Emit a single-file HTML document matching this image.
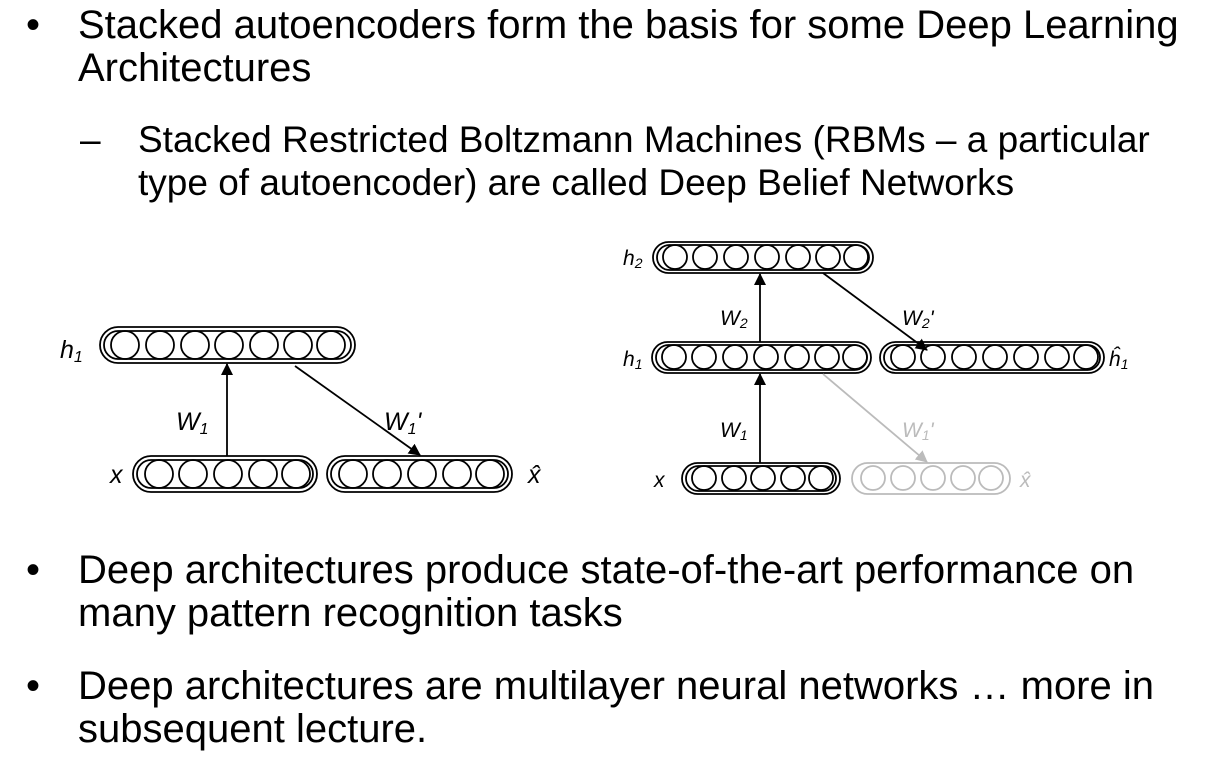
<!DOCTYPE html>
<html><head><meta charset="utf-8"><style>
body{margin:0;width:1228px;height:780px;background:#fff;position:relative;overflow:hidden;font-family:"Liberation Sans",sans-serif;color:#000}
.t{position:absolute;white-space:nowrap;line-height:1}
.b{font-size:40px}
.s{font-size:37px}
svg{position:absolute;left:0;top:0}
svg text{font-family:"Liberation Sans",sans-serif;font-style:italic}
</style></head><body>
<div class="t b" style="left:26px;top:5px">•</div>
<div class="t b" style="left:78px;top:5px">Stacked autoencoders form the basis for some Deep Learning</div>
<div class="t b" style="left:78px;top:48px">Architectures</div>
<div class="t s" style="left:80px;top:121px">–</div>
<div class="t s" style="left:138px;top:121px">Stacked Restricted Boltzmann Machines (RBMs – a particular</div>
<div class="t s" style="left:138px;top:164px">type of autoencoder) are called Deep Belief Networks</div>
<div class="t b" style="left:26px;top:550px">•</div>
<div class="t b" style="left:78px;top:550px">Deep architectures produce state-of-the-art performance on</div>
<div class="t b" style="left:78px;top:593px">many pattern recognition tasks</div>
<div class="t b" style="left:26px;top:666px">•</div>
<div class="t b" style="left:78px;top:666px">Deep architectures are multilayer neural networks … more in</div>
<div class="t b" style="left:78px;top:709px">subsequent lecture.</div>
<svg width="1228" height="780">
<defs>
<marker id="a" markerWidth="12" markerHeight="12" refX="11" refY="6" orient="auto" markerUnits="userSpaceOnUse"><path d="M0,0 L12,6 L0,12z" fill="#000"/></marker>
<marker id="g" markerWidth="12" markerHeight="12" refX="11" refY="6" orient="auto" markerUnits="userSpaceOnUse"><path d="M0,0 L12,6 L0,12z" fill="#bbb"/></marker>
</defs>
<g fill="none" stroke="#000" stroke-width="1.8">
<rect x="100" y="327" width="255" height="36" rx="18"/><rect x="104" y="331" width="247" height="28" rx="14"/>
<circle cx="125" cy="345" r="14"/><circle cx="160" cy="345" r="14"/><circle cx="195" cy="345" r="14"/><circle cx="229" cy="345" r="14"/><circle cx="264" cy="345" r="14"/><circle cx="298" cy="345" r="14"/><circle cx="331" cy="345" r="14"/>
<rect x="133" y="456" width="184" height="36" rx="18"/><rect x="137" y="460" width="176" height="28" rx="14"/>
<circle cx="159" cy="474" r="14"/><circle cx="193" cy="474" r="14"/><circle cx="228" cy="474" r="14"/><circle cx="263" cy="474" r="14"/><circle cx="296" cy="474" r="14"/>
<rect x="327" y="456" width="185" height="36" rx="18"/><rect x="331" y="460" width="177" height="28" rx="14"/>
<circle cx="353" cy="474" r="14"/><circle cx="387" cy="474" r="14"/><circle cx="422" cy="474" r="14"/><circle cx="457" cy="474" r="14"/><circle cx="490" cy="474" r="14"/>
<line x1="227" y1="456" x2="227" y2="364" marker-end="url(#a)"/>
<line x1="295" y1="366" x2="420" y2="455" marker-end="url(#a)"/>
<rect x="653" y="242" width="220" height="31" rx="15.5"/><rect x="657" y="245" width="212" height="25" rx="12.5"/>
<circle cx="675" cy="257" r="12"/><circle cx="705" cy="257" r="12"/><circle cx="736" cy="257" r="12"/><circle cx="767" cy="257" r="12"/><circle cx="798" cy="257" r="12"/><circle cx="828" cy="257" r="12"/><circle cx="856" cy="257" r="12"/>
<rect x="652" y="342" width="219" height="31" rx="15.5"/><rect x="656" y="345" width="211" height="25" rx="12.5"/>
<circle cx="674" cy="357" r="12"/><circle cx="704" cy="357" r="12"/><circle cx="735" cy="357" r="12"/><circle cx="766" cy="357" r="12"/><circle cx="797" cy="357" r="12"/><circle cx="827" cy="357" r="12"/><circle cx="855" cy="357" r="12"/>
<rect x="880" y="342" width="224" height="31" rx="15.5"/><rect x="884" y="345" width="216" height="25" rx="12.5"/>
<circle cx="903" cy="357" r="12"/><circle cx="933" cy="357" r="12"/><circle cx="964" cy="357" r="12"/><circle cx="995" cy="357" r="12"/><circle cx="1026" cy="357" r="12"/><circle cx="1057" cy="357" r="12"/><circle cx="1086" cy="357" r="12"/>
<rect x="682" y="463" width="158" height="31" rx="15.5"/><rect x="686" y="466" width="150" height="25" rx="12.5"/>
<circle cx="704" cy="478" r="12"/><circle cx="734" cy="478" r="12"/><circle cx="763" cy="478" r="12"/><circle cx="793" cy="478" r="12"/><circle cx="821" cy="478" r="12"/>
<line x1="760" y1="463" x2="760" y2="374" marker-end="url(#a)"/>
<line x1="760" y1="342" x2="760" y2="274" marker-end="url(#a)"/>
<line x1="823" y1="273" x2="927" y2="350" marker-end="url(#a)"/>
</g>
<g fill="none" stroke="#bbb" stroke-width="1.8">
<rect x="852" y="463" width="158" height="31" rx="15.5"/>
<circle cx="873" cy="478" r="12"/><circle cx="903" cy="478" r="12"/><circle cx="933" cy="478" r="12"/><circle cx="963" cy="478" r="12"/><circle cx="991" cy="478" r="12"/>
<line x1="823" y1="374" x2="927" y2="462" marker-end="url(#g)"/>
</g>
<g font-size="25">
<text x="60" y="358">h<tspan font-size="16" dy="4">1</tspan></text>
<text x="110" y="483">x</text>
<text x="528" y="483">x̂</text>
<text x="176" y="430">W<tspan font-size="16" dy="4">1</tspan></text>
<text x="384" y="430">W<tspan font-size="16" dy="4">1</tspan><tspan dy="-4">'</tspan></text>
</g>
<g font-size="21">
<text x="623" y="265">h<tspan font-size="14" dy="3">2</tspan></text>
<text x="623" y="366">h<tspan font-size="14" dy="3">1</tspan></text>
<text x="1109" y="366">ĥ<tspan font-size="14" dy="3">1</tspan></text>
<text x="654" y="487">x</text>
<text x="1020" y="487" fill="#bbb">x̂</text>
<text x="720" y="325">W<tspan font-size="14" dy="3">2</tspan></text>
<text x="902" y="325">W<tspan font-size="14" dy="3">2</tspan><tspan dy="-3">'</tspan></text>
<text x="720" y="437">W<tspan font-size="14" dy="3">1</tspan></text>
<text x="902" y="437" fill="#bbb">W<tspan font-size="14" dy="3">1</tspan><tspan dy="-3">'</tspan></text>
</g>
</svg>
</body></html>
